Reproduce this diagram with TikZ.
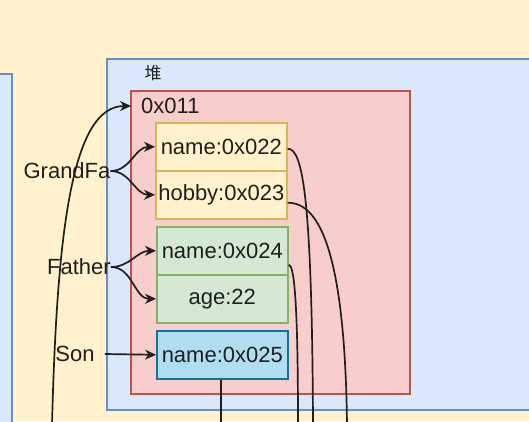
\documentclass[tikz,border=0pt]{standalone}
\usepackage{fontspec}
\setmainfont{Liberation Sans}
\newfontfamily\cjk{Noto Sans CJK SC}
\usetikzlibrary{arrows.meta}
\definecolor{bgY}{HTML}{FFF2CC}
\definecolor{heapF}{HTML}{DAE8FC}
\definecolor{heapS}{HTML}{6C8EBF}
\definecolor{redF}{HTML}{F8CECC}
\definecolor{redS}{HTML}{B85450}
\definecolor{yelS}{HTML}{D6B656}
\definecolor{grnF}{HTML}{D5E8D4}
\definecolor{grnS}{HTML}{82B366}
\definecolor{bluF}{HTML}{B1DDF0}
\definecolor{bluS}{HTML}{10739E}
\begin{document}
\begin{tikzpicture}[x=1pt,y=-1pt,
  txt/.style={font=\fontsize{22}{26}\selectfont, text=black!88, inner sep=0pt},
  cell/.style={txt, draw, line width=1.6pt, anchor=north west, minimum width=131pt, minimum height=48pt},
  ycell/.style={cell, fill=bgY, draw=yelS},
  gcell/.style={cell, fill=grnF, draw=grnS},
  bcell/.style={cell, fill=bluF, draw=bluS},
  conn/.style={line width=1.7pt, black!88},
  arr/.style={conn, -{Stealth[length=11pt,width=10pt,inset=3.5pt]}}
]
\useasboundingbox (0,0) rectangle (529,421);
\fill[bgY] (0,0) rectangle (529,421);
% left box
\draw[heapS, fill=heapF, line width=1.5pt] (-5,74) rectangle (12,430);
% heap
\draw[heapS, fill=heapF, line width=1.5pt] (107,59) rectangle (540,410);
\node[font=\cjk\fontsize{17}{20}\selectfont, text=black!88, inner sep=0pt] (heaplbl) at (153,73) {堆};
% red object area
\draw[redS, fill=redF, line width=1.5pt] (131,91) rectangle (410,394);
\node[txt, anchor=west, inner xsep=10pt] (addr) at (131,106) {0x011};
% cells
\node[ycell] (n22) at (155,122) {name:0x022};
\node[ycell] (h23) at (155,170) {hobby:0x023};
\node[gcell] (n24) at (156,226) {name:0x024};
\node[gcell] (a22) at (156,274) {age:22};
\node[bcell] (n25) at (156,330) {name:0x025};
% labels
\node[txt] (gf) at (67,171) {GrandFa};
\node[txt] (fa) at (79,267) {Father};
\node[txt] (son) at (75,354) {Son};
% free ends
\coordinate (b0) at (52,425);
\coordinate (b1) at (313,425);
\coordinate (b2) at (347,425);
\coordinate (b3) at (298,425);
\coordinate (b4) at (221,425);
% arrows
\draw[arr] (b0) .. controls (57,230) and (72,106) .. (addr.west);
\draw[arr] (gf.east) to[out=0,in=180] (n22.west);
\draw[arr] (gf.east) to[out=0,in=180] (h23.west);
\draw[arr] (fa.east) to[out=0,in=180] (n24.west);
\draw[arr] (fa.east) to[out=0,in=180] (a22.west);
\draw[arr] (son.east) ++(10,0) coordinate (sonst) (sonst) -- (n25.west);
% right curves
\draw[conn] ([yshift=-2pt]n22.east) .. controls (303,148) and (312,200) .. (b1);
\draw[conn] ([yshift=-8pt]h23.east) .. controls (320,202) and (345,255) .. (b2);
\draw[conn] ([yshift=-14pt]n24.east) .. controls (294,264) and (298,300) .. (b3);
\draw[conn] (n25.south -| b4) -- (b4);
\end{tikzpicture}
\end{document}
